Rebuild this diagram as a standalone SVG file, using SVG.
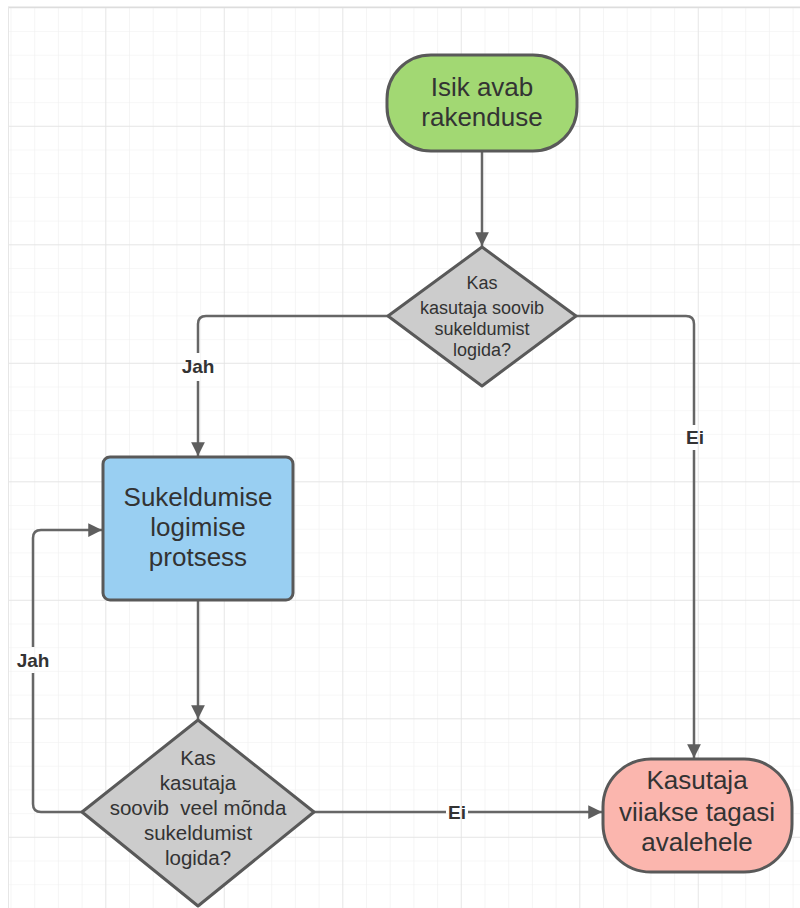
<svg xmlns="http://www.w3.org/2000/svg" width="800" height="908" viewBox="0 0 800 908">
<style>
.node{stroke:#595959;stroke-width:3}
.big{font-family:"Liberation Sans",Arial,sans-serif;font-size:26px;fill:#333;text-anchor:middle}
.q1{font-family:"Liberation Sans",Arial,sans-serif;font-size:18px;fill:#333;text-anchor:middle}
.q2{font-family:"Liberation Sans",Arial,sans-serif;font-size:20.5px;fill:#333;text-anchor:middle}
.lbl{font-family:"Liberation Sans",Arial,sans-serif;font-size:19px;font-weight:bold;fill:#333;text-anchor:middle}
.con{fill:none;stroke:#666;stroke-width:2.5;stroke-linejoin:round}
</style>
<defs>
<pattern id="minor" x="10.5" y="7.3" width="23.7" height="23.7" patternUnits="userSpaceOnUse">
<path d="M0 0V23.7M0 0H23.7" fill="none" stroke="#efefef" stroke-width="1.2"/>
</pattern>
<pattern id="major" x="-13.2" y="7.3" width="118.5" height="118.5" patternUnits="userSpaceOnUse">
<path d="M0 0V118.5M0 0H118.5" fill="none" stroke="#e2e2e2" stroke-width="1.4"/>
</pattern>
<marker id="arr" viewBox="0 0 10 10" refX="10" refY="5" markerWidth="5.5" markerHeight="5.5" markerUnits="strokeWidth" orient="auto">
<path d="M0 0L10 5L0 10z" fill="#5e5e5e"/>
</marker>
</defs>
<rect width="800" height="908" fill="#fff"/>
<rect x="8" y="7" width="792" height="901" fill="url(#minor)"/>
<rect x="8" y="7" width="792" height="901" fill="url(#major)"/>
<line x1="8" y1="7.3" x2="800" y2="7.3" stroke="#ddd" stroke-width="1.4"/>
<line x1="8.5" y1="7" x2="8.5" y2="908" stroke="#e6e6e6" stroke-width="1"/>

<g id="connectors">
<path class="con" d="M482 151V246" marker-end="url(#arr)"/>
<path class="con" d="M388 316H206Q198 316 198 324V353"/>
<path class="con" d="M198 381V456" marker-end="url(#arr)"/>
<path class="con" d="M576 316H686Q694 316 694 324V425"/>
<path class="con" d="M694 450V758" marker-end="url(#arr)"/>
<path class="con" d="M198 600V719" marker-end="url(#arr)"/>
<path class="con" d="M82 812H41Q33 812 33 804V673"/>
<path class="con" d="M33 647V538Q33 530 41 530H102" marker-end="url(#arr)"/>
<path class="con" d="M314 812H446"/>
<path class="con" d="M468 812H602" marker-end="url(#arr)"/>
<text class="lbl" x="198" y="373">Jah</text>
<text class="lbl" x="695" y="444">Ei</text>
<text class="lbl" x="33" y="667">Jah</text>
<text class="lbl" x="457" y="819">Ei</text>
</g>

<g id="start">
<rect class="node" x="387" y="55" width="190" height="96" rx="44" fill="#a2d873"/>
<text class="big" x="482" y="96">Isik avab</text>
<text class="big" x="482" y="126">rakenduse</text>
</g>

<g id="decision1">
<path class="node" d="M482 247L576 316L482 386L388 316Z" fill="#cccccc" stroke-linejoin="round"/>
<text class="q1" x="482" y="289">Kas</text>
<text class="q1" x="482" y="314">kasutaja soovib</text>
<text class="q1" x="482" y="335">sukeldumist</text>
<text class="q1" x="482" y="356">logida?</text>
</g>

<g id="process">
<rect class="node" x="103" y="457" width="190" height="143" rx="7" fill="#99cff2"/>
<text class="big" x="198" y="506">Sukeldumise</text>
<text class="big" x="198" y="536">logimise</text>
<text class="big" x="198" y="566">protsess</text>
</g>

<g id="decision2">
<path class="node" d="M198 720L314 812L198 906L82 812Z" fill="#cccccc" stroke-linejoin="round"/>
<text class="q2" x="198" y="765">Kas</text>
<text class="q2" x="198" y="790">kasutaja</text>
<text class="q2" x="198" y="815" xml:space="preserve">soovib  veel mõnda</text>
<text class="q2" x="198" y="840">sukeldumist</text>
<text class="q2" x="198" y="865">logida?</text>
</g>

<g id="end">
<rect class="node" x="603" y="759" width="189" height="113" rx="48" fill="#fbb6ae"/>
<text class="big" x="697" y="789">Kasutaja</text>
<text class="big" x="697" y="821">viiakse tagasi</text>
<text class="big" x="697" y="851">avalehele</text>
</g>
</svg>
